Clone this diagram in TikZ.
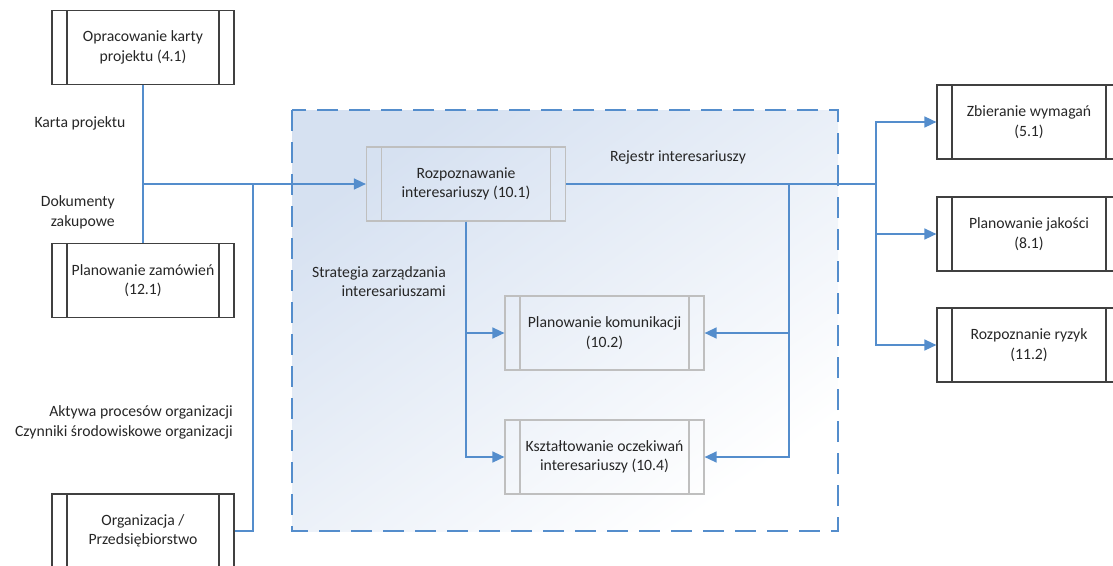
\documentclass[tikz,border=0pt]{standalone}
\usepackage{fontspec}
\setmainfont{Carlito}
\usepackage{tikz}
\usetikzlibrary{arrows.meta, positioning, calc}
\definecolor{flowblue}{RGB}{84, 141, 204}
\definecolor{areablue}{RGB}{214, 225, 241}
\definecolor{boxdark}{RGB}{64, 64, 64}
\definecolor{boxgray}{RGB}{191, 191, 191}

\begin{document}
\begin{tikzpicture}[
    x=1pt, y=-1pt,
    >={Triangle[length=12pt, width=11pt]},
    proc/.style={rectangle, draw=#1, line width=1.2pt, minimum width=182pt, minimum height=74pt, inner sep=0pt,
      align=center, font=\fontsize{15.7}{19.5}\selectfont, text=black!85,
      path picture={\draw[#1, line width=1.2pt]
        ([xshift=15pt]path picture bounding box.north west) -- ([xshift=15pt]path picture bounding box.south west)
        ([xshift=-15pt]path picture bounding box.north east) -- ([xshift=-15pt]path picture bounding box.south east);}},
    subproc/.style={proc=boxgray, minimum width=199pt},
    note/.style={font=\fontsize{15.7}{19.5}\selectfont, text=black!85, inner sep=0pt},
    flow/.style={draw=flowblue, line width=1.5pt},
  ]

  \clip (0,0) rectangle (1113,565);

  % Stakeholder area
  \shade[top color=areablue, middle color=white, bottom color=white, shading angle=35] (292,110) rectangle (838,531);
  \draw[flowblue, line width=1.2pt, dash pattern=on 21pt off 11pt] (292,110) rectangle (838,531);

  % Inputs
  \node[proc=boxdark] (opr) at (143,47.5) {Opracowanie karty\\projektu (4.1)};
  \node[proc=boxdark] (zam) at (143,280.5) {Planowanie zamówień\\(12.1)};
  \node[proc=boxdark] (org) at (143,531) {Organizacja /\\Przedsiębiorstwo};

  % Stakeholder processes
  \node[subproc] (roz) at (466,184) {Rozpoznawanie\\interesariuszy (10.1)};
  \node[subproc] (kom) at (604.5,333) {Planowanie komunikacji\\(10.2)};
  \node[subproc] (ocz) at (604.5,457) {Kształtowanie oczekiwań\\interesariuszy (10.4)};

  % Outputs
  \node[proc=boxdark, minimum width=184pt] (zb) at (1029,122) {Zbieranie wymagań\\(5.1)};
  \node[proc=boxdark, minimum width=184pt] (jak) at (1029,234) {Planowanie jakości\\(8.1)};
  \node[proc=boxdark, minimum width=184pt] (ryz) at (1029,345) {Rozpoznanie ryzyk\\(11.2)};

  \coordinate (jorg) at (253,184);
  \coordinate (jback) at (789,184);
  \coordinate (jout) at (876,184);

  % Connectors
  \draw[flow, ->] (opr.south) |- (roz.west);
  \draw[flow] (zam.north) -- (zam.north |- roz.west);
  \draw[flow] (org.east) -| (jorg);
  \draw[flow] (roz.east) -- (jout);
  \foreach \s/\e in {roz.south/kom.west, roz.south/ocz.west, jback/kom.east, jback/ocz.east, jout/zb.west, jout/jak.west, jout/ryz.west} {
    \draw[flow, ->] (\s) |- (\e);
  }

  % Labels
  \node[note] (lkarta) at (80,123) {Karta projektu};
  \node[note, align=right, anchor=east] (ldok) at (115,212.5) {Dokumenty\\zakupowe};
  \node[note] (lrej) at (678,157) {Rejestr interesariuszy};
  \node[note, align=right, anchor=east] (lstr) at (446,281.5) {Strategia zarządzania\\interesariuszami};
  \node[note, align=right, anchor=east] (lakt) at (233,422.5) {Aktywa procesów organizacji\\Czynniki środowiskowe organizacji};

\end{tikzpicture}
\end{document}
